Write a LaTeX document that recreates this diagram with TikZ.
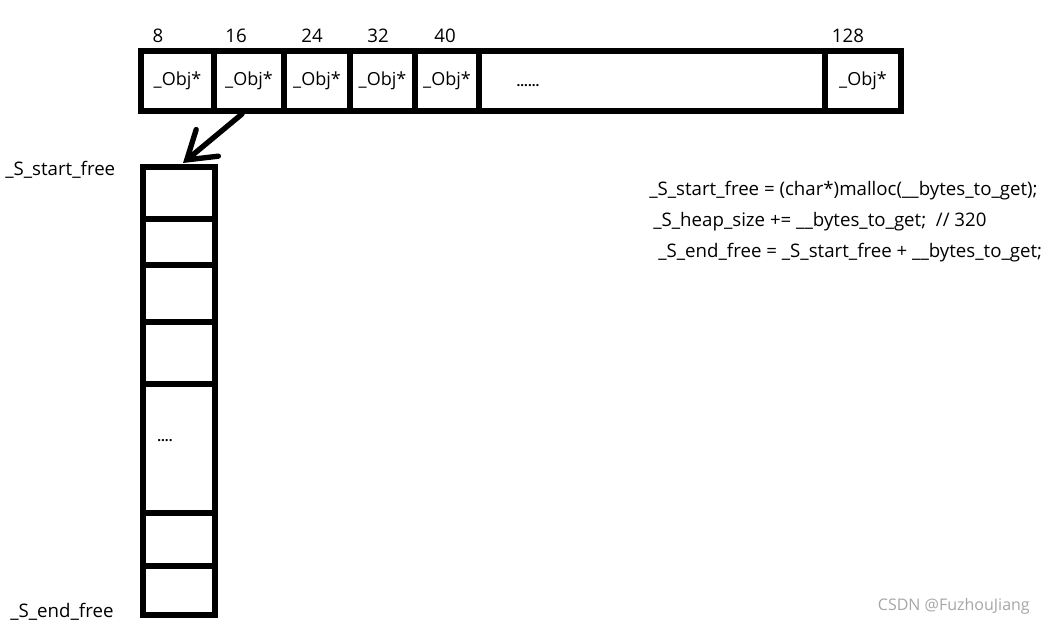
\documentclass[tikz,border=0pt]{standalone}
\usepackage{fontspec}
\setmainfont{Open Sans}
\usetikzlibrary{arrows.meta}
\begin{document}
\begin{tikzpicture}[x=0.75pt, y=-0.75pt,
    cell/.style={rectangle, draw, line width=4pt, inner sep=0pt, minimum height=60*0.75pt, font=\fontsize{13.5}{16}\selectfont},
    slot/.style={rectangle, draw, line width=4pt, inner sep=0pt, minimum width=72*0.75pt},
    lbl/.style={font=\fontsize{14}{16}\selectfont, inner sep=0pt},
    arrow/.style={-{Straight Barb[length=20pt, width=26pt, line cap=round]}, line width=4pt, line cap=round}
]
    \useasboundingbox (0,0) rectangle (1046,625);

    % Top array: free list heads
    \foreach \l/\r/\n in {141/214/8, 214/284/16, 284/350/24, 350/415/32, 415/479/40}
        \node[cell, minimum width={(\r-\l)*0.75pt}] (c\n) at ({(\l+\r)/2},81) {\_Obj*};
    \node[cell, minimum width=346*0.75pt] (cdots) at (652,81) {};
    \node[lbl, font=\bfseries] (dots) at (528,86) {......};
    \node[cell, minimum width=76*0.75pt] (c128) at (863,81) {\_Obj*};

    % Sizes above the array
    \foreach \x/\n in {158/8, 236/16, 312/24, 378/32, 445/40, 848/128}
        \node[lbl] (n\n) at (\x,36) {\n};

    % Memory pool column
    \foreach \t/\b [count=\i] in {167/219, 219/265, 265/322, 322/384, 384/513, 513/566, 566/615}
        \node[slot, minimum height={(\b-\t)*0.75pt}] (s\i) at (179,{(\t+\b)/2}) {};
    \node[lbl, font=\bfseries] (vdots) at (165,441) {....};

    % Arrow from the 16 list into the pool
    \coordinate (from16) at (242,114);
    \coordinate (tip) at (183,163);
    \draw[arrow] (from16) -- (tip);

    % Pointer names
    \node[lbl, anchor=west] (startlbl) at (5,170) {\_S\_start\_free};
    \node[lbl, anchor=west] (endlbl) at (10,612) {\_S\_end\_free};

    % Code
    \node[lbl, anchor=west] (code1) at (649,191) {\_S\_start\_free = (char*)malloc(\_\_bytes\_to\_get);};
    \node[lbl, anchor=west] (code2) at (653,222) {\_S\_heap\_size += \_\_bytes\_to\_get;~ // 320};
    \node[lbl, anchor=west] (code3) at (658,253) {\_S\_end\_free = \_S\_start\_free + \_\_bytes\_to\_get;};

    % Watermark
    \node[lbl, anchor=east, text=gray!70, font=\fontsize{12}{14}\selectfont] (mark) at (1030,606) {CSDN @FuzhouJiang};
\end{tikzpicture}
\end{document}
